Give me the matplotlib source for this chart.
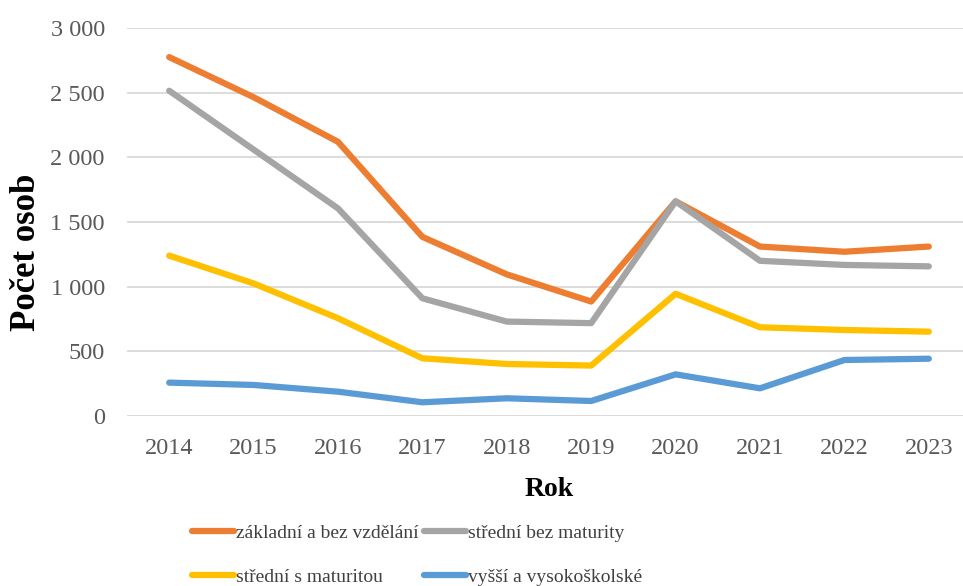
import matplotlib
matplotlib.use("Agg")
import matplotlib.pyplot as plt
from matplotlib.ticker import FuncFormatter, MultipleLocator

# data
years = ["2014", "2015", "2016", "2017", "2018", "2019", "2020", "2021", "2022", "2023"]
zakladni = [2775, 2465, 2120, 1385, 1095, 885, 1660, 1310, 1270, 1310]
stredni_bez = [2515, 2060, 1605, 910, 730, 718, 1660, 1200, 1168, 1157]
stredni_s = [1240, 1025, 756, 446, 402, 390, 945, 686, 665, 652]
vyssi = [258, 240, 188, 106, 137, 116, 322, 214, 433, 443]

labels = ["základní a bez vzdělání", "střední bez maturity",
          "střední s maturitou", "vyšší a vysokoškolské"]
colors = ["#ED7D31", "#A5A5A5", "#FFC000", "#5B9BD5"]

plt.rcParams["font.family"] = ["Liberation Serif", "DejaVu Serif"]

fig = plt.figure(figsize=(9.63, 5.86), dpi=100)
# axes placed in pixel terms of the original picture
ax = fig.add_axes([127 / 963, 1 - 416 / 586, 844 / 963, 388 / 586])

x = range(len(years))
lines = []
for series, lab, col in zip([zakladni, stredni_bez, stredni_s, vyssi], labels, colors):
    ln, = ax.plot(x, series, color=col, lw=4.5, label=lab, solid_capstyle="round",
                  solid_joinstyle="round")
    lines.append(ln)

ax.set_xlim(-0.5, len(years) - 0.5)
ax.set_ylim(0, 3000)
ax.yaxis.set_major_locator(MultipleLocator(500))
ax.yaxis.set_major_formatter(FuncFormatter(lambda v, p: format(int(v), ",").replace(",", " ")))
ax.set_xticks(list(x))
ax.set_xticklabels(years)

ax.grid(axis="y", color="#D9D9D9", lw=1.3)
ax.set_axisbelow(True)
for s in ax.spines.values():
    s.set_visible(False)
ax.tick_params(axis="both", length=0, labelsize=17.5, labelcolor="#595959")
ax.tick_params(axis="y", pad=16)
ax.tick_params(axis="x", pad=16)

ax.set_xlabel("Rok", fontsize=20, fontweight="bold")
ax.xaxis.set_label_coords(0.5, -(490 - 416) / 388)
ax.xaxis.label.set_va("center")
ax.set_ylabel("Počet osob", fontsize=25, fontweight="bold")
ax.yaxis.set_label_coords(-(127 - 43) / 844, (416 - 252) / 388)

# Excel-style legend, filled row by row
order = [0, 2, 1, 3]
fig.legend([lines[i] for i in order], [labels[i] for i in order],
           loc="upper left", bbox_to_anchor=(174 / 963, 1 - 507 / 586), ncol=2,
           frameon=False, fontsize=14, handlelength=2.2, handletextpad=0.1,
           columnspacing=0.25, labelspacing=1.35, labelcolor="#404040")

fig.savefig("out.png", dpi=100)
